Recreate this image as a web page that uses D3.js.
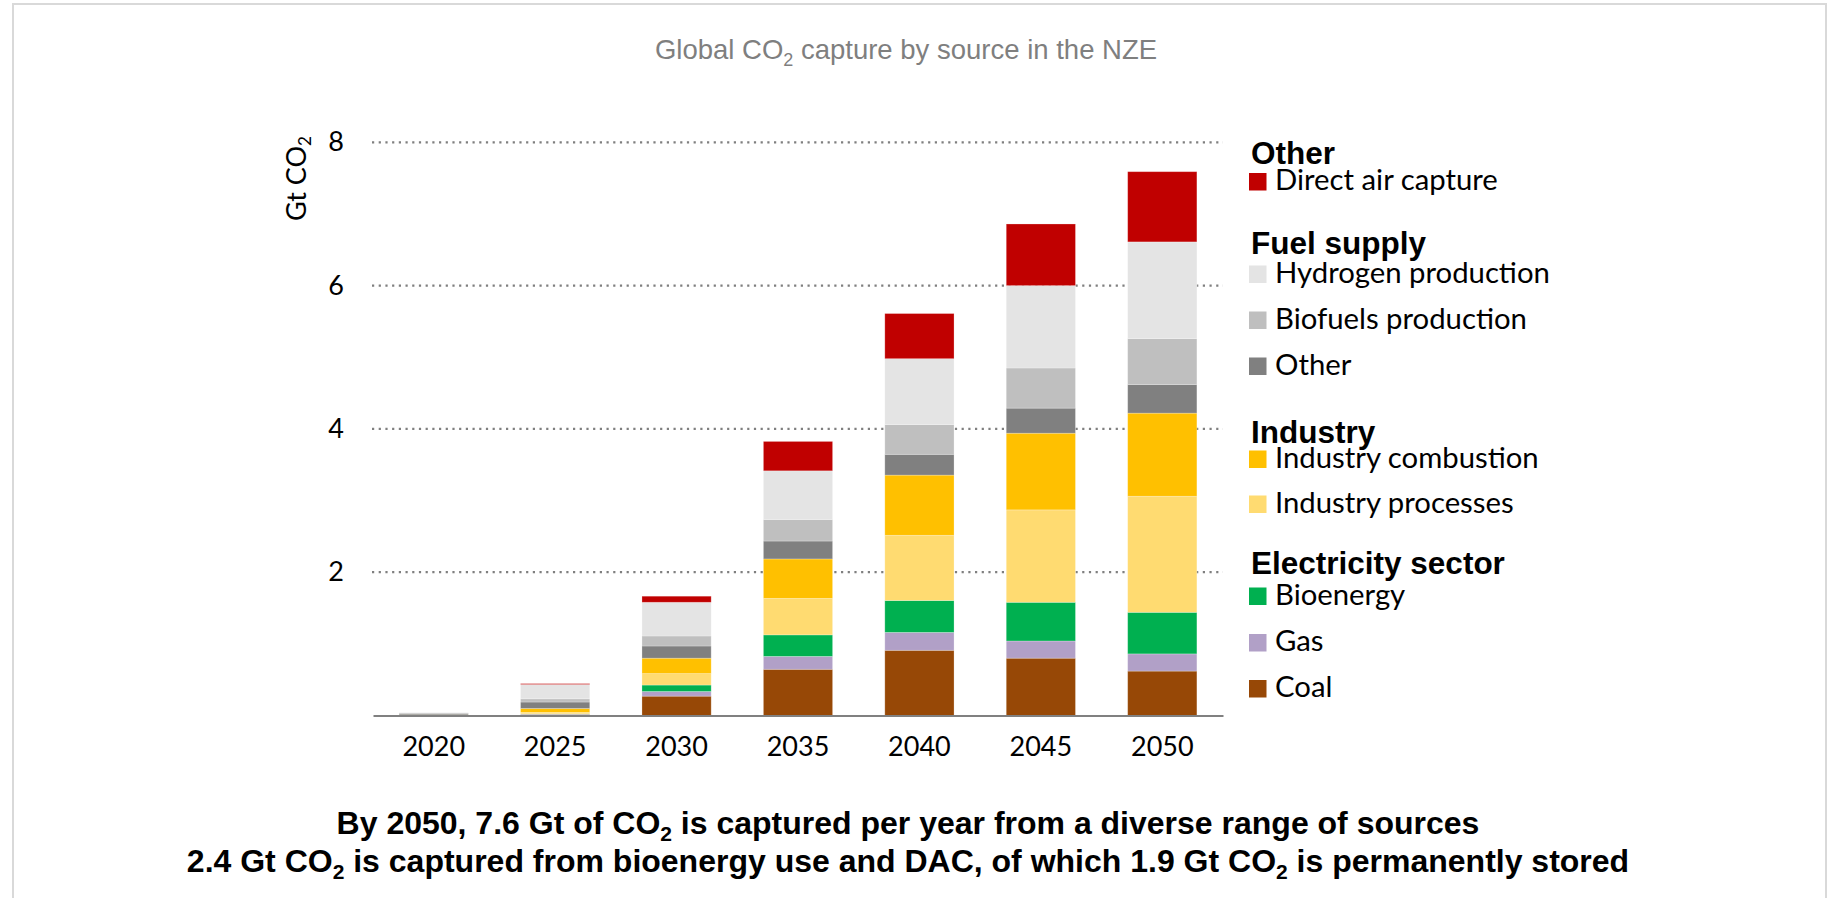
<!DOCTYPE html>
<html>
<head>
<meta charset="utf-8">
<script src="https://d3js.org/d3.v7.min.js"></script>
<style>
  body { margin: 0; background: #fff; }
  svg { display: block; }
</style>
</head>
<body>
<div id="chart-wrapper"></div>
<script>
let width = 1831
let height = 898

let years = ["2020", "2025", "2030", "2035", "2040", "2045", "2050"]
let yTicks = [2, 4, 6, 8]

// Gt CO2 by source, bottom of the stack first
let coal        = [0.003, 0.015, 0.27, 0.645, 0.91, 0.80, 0.62]
let gas         = [0,     0.005, 0.065, 0.18, 0.25, 0.24, 0.24]
let bioenergy   = [0,     0.003, 0.09, 0.30, 0.445, 0.54, 0.58]
let indProcess  = [0.005, 0.02,  0.16, 0.51, 0.91, 1.29, 1.62]
let indCombust  = [0.002, 0.055, 0.215, 0.55, 0.84, 1.07, 1.16]
let fuelOther   = [0.02,  0.09,  0.17, 0.25, 0.29, 0.35, 0.40]
let biofuels    = [0.005, 0.045, 0.14, 0.30, 0.415, 0.56, 0.64]
let hydrogen    = [0.005, 0.20,  0.47, 0.68, 0.92, 1.15, 1.35]
let dac         = [0,     0.012, 0.085, 0.41, 0.63, 0.86, 0.98]

let seriesNames = ["Coal", "Gas", "Bioenergy", "Industry processes", "Industry combustion",
  "Other", "Biofuels production", "Hydrogen production", "Direct air capture"]
let seriesValues = [coal, gas, bioenergy, indProcess, indCombust, fuelOther, biofuels, hydrogen, dac]
let colors = ["#974806", "#b1a0c7", "#00b050", "#ffdb71", "#ffc000",
  "#808080", "#bfbfbf", "#e4e4e4", "#c00000"]

let legendGroups = [
  {title: "Other", items: [8]},
  {title: "Fuel supply", items: [7, 6, 5]},
  {title: "Industry", items: [4, 3]},
  {title: "Electricity sector", items: [2, 1, 0]}
]

let rows = years.map((y, i) => {
  let r = {year: y}
  seriesNames.forEach((n, k) => r[n] = seriesValues[k][i])
  return r
})
let stacked = d3.stack().keys(seriesNames)(rows)

let svg = d3.select("#chart-wrapper")
  .append("svg")
  .attr("width", width)
  .attr("height", height)

// frame
svg.append("rect")
  .attr("x", 13).attr("y", 4)
  .attr("width", 1813).attr("height", 920)
  .attr("fill", "none")
  .attr("stroke", "#d9d9d9")
  .attr("stroke-width", 2)

let x = d3.scaleBand()
  .domain(years)
  .range([373, 1223])
  .paddingInner(0.43)
  .paddingOuter(0.215)

let y = d3.scaleLinear()
  .domain([0, 8])
  .range([715.5, 142.3])

// gridlines
svg.append("g")
  .selectAll("line")
  .data(yTicks)
  .join("line")
  .attr("x1", 372).attr("x2", 1223)
  .attr("y1", d => y(d)).attr("y2", d => y(d))
  .attr("stroke", "#7f7f7f")
  .attr("stroke-width", 2.2)
  .attr("stroke-dasharray", "2.2,4.5")

// bars
svg.append("g")
  .selectAll("g")
  .data(stacked)
  .join("g")
  .attr("fill", (d, i) => colors[i])
  .selectAll("rect")
  .data(d => d)
  .join("rect")
  .attr("x", d => x(d.data.year))
  .attr("width", x.bandwidth())
  .attr("y", d => y(d[1]))
  .attr("height", d => Math.max(0, y(d[0]) - y(d[1])))
  .attr("stroke", "#ffffff")
  .attr("stroke-opacity", 0.3)
  .attr("stroke-width", 0.8)

// x axis
let xAxis = svg.append("g")
  .attr("class", "xAxis")
  .attr("transform", `translate(0, ${y(0)})`)
  .call(d3.axisBottom(x).tickSize(0).tickPadding(21))
xAxis.select(".domain").attr("stroke", "#808080").attr("stroke-width", 2)
xAxis.selectAll("text")
  .attr("font-family", "Lato, 'Open Sans', sans-serif")
  .attr("font-size", 27)
  .attr("fill", "#000")
  .attr("dy", "0.72em")

// y axis
let yAxis = svg.append("g")
  .attr("class", "yAxis")
  .attr("transform", "translate(350, 0)")
  .call(d3.axisLeft(y).tickValues(yTicks).tickSize(0).tickPadding(6))
yAxis.select(".domain").remove()
yAxis.selectAll("text")
  .attr("font-family", "Lato, 'Open Sans', sans-serif")
  .attr("font-size", 27)
  .attr("fill", "#000")

// y title
let yTitle = svg.append("text")
  .attr("transform", "translate(306, 136) rotate(-90)")
  .attr("text-anchor", "end")
  .attr("font-family", "Lato, 'Open Sans', sans-serif")
  .attr("font-size", 27)
  .attr("fill", "#000")
yTitle.append("tspan").text("Gt CO")
yTitle.append("tspan").attr("font-size", 17).attr("dy", 5).text("2")

// title
let title = svg.append("text")
  .attr("x", 906).attr("y", 59)
  .attr("text-anchor", "middle")
  .attr("font-family", "'Liberation Sans', Arial, sans-serif")
  .attr("font-size", 27.5)
  .attr("fill", "#7f7f7f")
title.append("tspan").text("Global CO")
title.append("tspan").attr("font-size", 18).attr("dy", 7).text("2")
title.append("tspan").attr("dy", -7).text(" capture by source in the NZE")

// caption
let captionLines = [
  ["By 2050, 7.6 Gt of CO", "2", " is captured per year from a diverse range of sources"],
  ["2.4 Gt CO", "2", " is captured from bioenergy use and DAC, of which 1.9 Gt CO", "2", " is permanently stored"]
]
captionLines.forEach((parts, li) => {
  let t = svg.append("text")
    .attr("x", 908).attr("y", 834 + li * 38)
    .attr("text-anchor", "middle")
    .attr("font-family", "'Liberation Sans', Arial, sans-serif")
    .attr("font-weight", "bold")
    .attr("font-size", 32)
    .attr("fill", "#000")
  parts.forEach((p, k) => {
    if (p === "2") t.append("tspan").attr("font-size", 21).attr("dy", 7).text(p)
    else t.append("tspan").attr("dy", k === 0 ? 0 : -7).text(p)
  })
})

// legend
let legend = svg.append("g").attr("class", "legend")
let headerY = [164, 254, 443, 574]
let itemY = [[190], [282.5, 328.5, 374.5], [467.5, 512.5], [604.5, 651, 697]]
legendGroups.forEach((g, gi) => {
  legend.append("text")
    .attr("x", 1251).attr("y", headerY[gi])
    .attr("font-family", "'Liberation Sans', Arial, sans-serif")
    .attr("font-weight", "bold")
    .attr("font-size", 31.5)
    .attr("fill", "#000")
    .text(g.title)
  g.items.forEach((k, ii) => {
    let by = itemY[gi][ii]
    legend.append("rect")
      .attr("x", 1249).attr("y", by - 17)
      .attr("width", 17.5).attr("height", 17.5)
      .attr("fill", colors[k])
    legend.append("text")
      .attr("x", 1275).attr("y", by)
      .attr("font-family", "Lato, 'Open Sans', sans-serif")
      .attr("font-size", 29.3)
      .attr("fill", "#000")
      .text(seriesNames[k])
  })
})
</script>
</body>
</html>
